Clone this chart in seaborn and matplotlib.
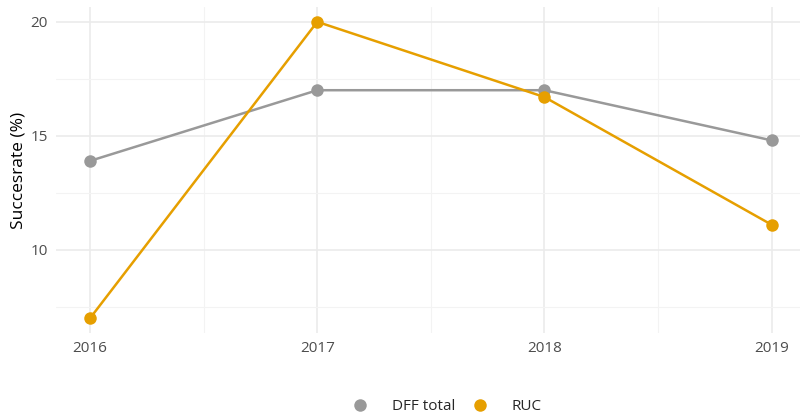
import pandas as pd
import matplotlib.pyplot as plt
import seaborn as sns
from matplotlib.lines import Line2D

# Data
years = [2016, 2017, 2018, 2019]
dff_total = [13.9, 17.0, 17.0, 14.8]
ruc = [7.0, 20.0, 16.7, 11.1]
series_names = ["DFF total", "RUC"]
colors = {"DFF total": "#999999", "RUC": "#E69F00"}

df = pd.DataFrame({
    "year": years * 2,
    "rate": dff_total + ruc,
    "group": [series_names[0]] * len(years) + [series_names[1]] * len(years),
})

sns.set_theme(style="whitegrid")
plt.rcParams["font.family"] = ["Open Sans", "DejaVu Sans"]

fig = plt.figure(figsize=(8, 4.16), dpi=100)
ax = fig.add_axes([56 / 800, 1 - 333 / 416, 1 - 56 / 800, (333 - 7) / 416])

sns.lineplot(
    data=df, x="year", y="rate", hue="group", hue_order=series_names,
    palette=colors, marker="o", markersize=9, markeredgewidth=0,
    linewidth=1.8, legend=False, ax=ax,
)

ax.set_xlim(2015.85, 2016 + (800 - 90) / 227.2)
ax.set_ylim(6.35, 20.65)
ax.set_xticks(years)
ax.set_xticklabels([str(y) for y in years])
ax.set_yticks([10, 15, 20])
ax.set_xticks([2016.5, 2017.5, 2018.5], minor=True)
ax.set_yticks([7.5, 12.5, 17.5], minor=True)
ax.grid(which="major", color="#EBEBEB", linewidth=1.2)
ax.grid(which="minor", color="#F3F3F3", linewidth=0.8)
ax.tick_params(which="both", length=0, labelsize=11, labelcolor="#4D4D4D", pad=6)
for s in ax.spines.values():
    s.set_visible(False)
ax.set_xlabel("")
ax.set_ylabel("Succesrate (%)", fontsize=12.5, color="black", labelpad=3)

handles = [
    Line2D([], [], linestyle="none", marker="o", markersize=9,
           markeredgewidth=0, color=colors[n])
    for n in series_names
]
fig.legend(handles, series_names, loc="center", bbox_to_anchor=(0.554, 1 - 407 / 416),
           ncol=2, frameon=False, fontsize=11, handletextpad=1.1,
           columnspacing=0.6)

fig.savefig("out.png", dpi=100)
